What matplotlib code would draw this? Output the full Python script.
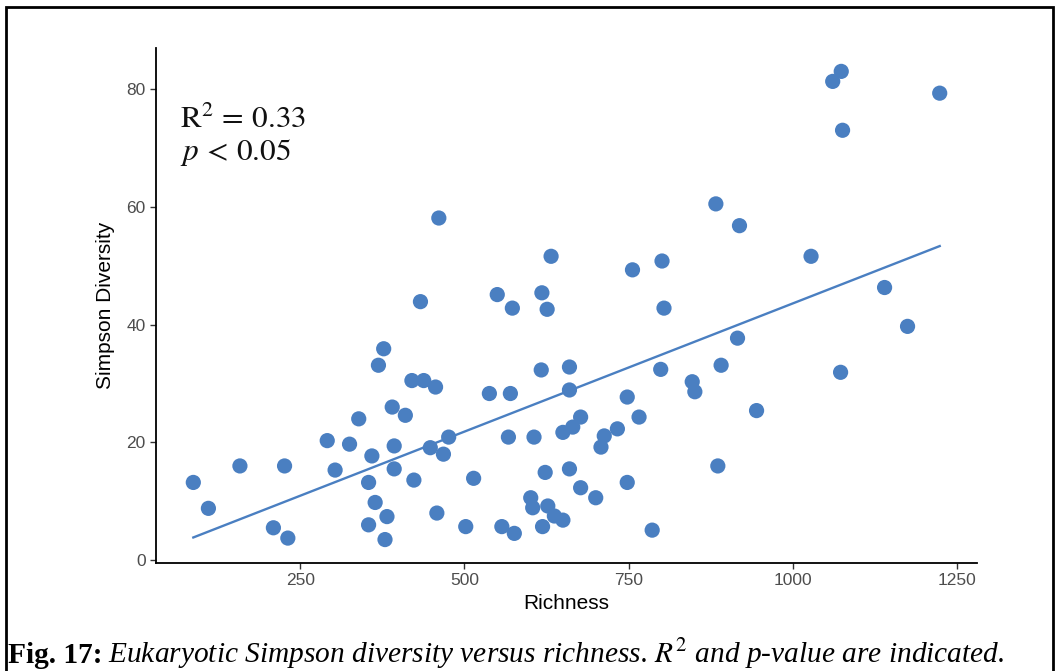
import numpy as np
import matplotlib.pyplot as plt
from matplotlib.patches import Rectangle

plt.rcParams["mathtext.fontset"] = "stix"

# Richness (x) and Simpson diversity (y)
richness = [
    87, 110, 158, 226, 209, 231, 291, 303, 325, 339,
    359, 354, 364, 354, 382, 379, 369, 377, 390, 410,
    393, 393, 423, 420, 438, 456, 433, 448, 468, 476,
    458, 502, 514, 538, 461, 573, 626, 804, 570, 617,
    660, 660, 799, 847, 851, 748, 766, 567, 606, 650,
    665, 677, 708, 713, 733, 623, 660, 677, 700, 748,
    601, 604, 627, 637, 650, 619, 557, 576, 786, 916,
    891, 945, 886, 1073, 1175, 883, 919, 1028, 1140, 1061,
    1074, 1076, 1224, 632, 756, 801, 550, 618,
]
simpson = [
    13.2, 8.8, 16.0, 16.0, 5.5, 3.75, 20.3, 15.3, 19.7, 24.0,
    17.7, 13.2, 9.8, 6.0, 7.4, 3.5, 33.1, 35.9, 26.0, 24.6,
    19.4, 15.5, 13.6, 30.5, 30.5, 29.4, 43.9, 19.1, 18.0, 20.9,
    8.0, 5.7, 13.9, 28.3, 58.1, 42.8, 42.6, 42.8, 28.3, 32.3,
    32.8, 28.9, 32.4, 30.3, 28.6, 27.7, 24.3, 20.9, 20.9, 21.7,
    22.6, 24.3, 19.2, 21.1, 22.3, 14.9, 15.5, 12.3, 10.6, 13.2,
    10.6, 8.9, 9.2, 7.5, 6.8, 5.7, 5.7, 4.55, 5.1, 37.7,
    33.1, 25.4, 16.0, 31.9, 39.7, 60.5, 56.8, 51.6, 46.3, 81.3,
    83.0, 73.0, 79.3, 51.6, 49.3, 50.8, 45.1, 45.4,
]
x_ticks = [250, 500, 750, 1000, 1250]
y_ticks = [0, 20, 40, 60, 80]

x = np.array(richness, dtype=float)
y = np.array(simpson, dtype=float)

blue = "#4a7fc1"
W, H = 1059, 671

fig = plt.figure(figsize=(W / 100, H / 100), dpi=100)
ax = fig.add_axes([0.1473, 0.161, 0.7753, 0.7675])

ax.scatter(x, y, s=120, color=blue, edgecolors="none", zorder=3)

# linear fit
slope, intercept = np.polyfit(x, y, 1)
xs = np.linspace(x.min(), x.max(), 100)
ax.plot(xs, intercept + slope * xs, color=blue, lw=1.7, zorder=2)

pad_x = 0.05 * (x.max() - x.min())
pad_y = 0.05 * (y.max() - y.min())
ax.set_xlim(x.min() - pad_x, x.max() + pad_x)
ax.set_ylim(y.min() - pad_y, y.max() + pad_y)

ax.set_xticks(x_ticks)
ax.set_yticks(y_ticks)
ax.tick_params(colors="#333333", labelcolor="#4d4d4d", labelsize=12.5, length=4, width=1)
for s in ["top", "right"]:
    ax.spines[s].set_visible(False)
for s in ["left", "bottom"]:
    ax.spines[s].set_linewidth(1.3)

ax.set_xlabel("Richness", fontsize=15, family="Liberation Sans", labelpad=4)
ax.set_ylabel("Simpson Diversity", fontsize=15, family="Liberation Sans", labelpad=8)
for lab in ax.get_xticklabels() + ax.get_yticklabels():
    lab.set_family("Liberation Sans")

# R2 and p annotation
fig.text(180 / W, 1 - 128 / H, r"$\mathrm{R}^2\,=\,0.33$", fontsize=22.5,
         va="baseline", color="#111111")
fig.text(180 / W, 1 - 160 / H, r"$p\,<\,0.05$", fontsize=22.5,
         va="baseline", color="#111111")

# caption below the plot
r = fig.canvas.get_renderer()
cap = fig.text(8 / W, 1 - 663 / H, "Fig. 17:", fontsize=21.2, family="Liberation Serif",
               weight="bold", va="baseline")
bb = cap.get_window_extent(r)
fig.text((bb.x1 + 6) / W, 1 - 663 / H,
         r"Eukaryotic Simpson diversity versus richness. $R^2$ and p-value are indicated.",
         fontsize=21.2, family="Liberation Serif", style="italic", va="baseline")

# frame around the figure
fig.patches.append(Rectangle((6 / W, -0.05), 1047 / W, 1.05 - 7 / H,
                             transform=fig.transFigure, fill=False, lw=2, ec="black"))

fig.savefig("out.png", dpi=100)
